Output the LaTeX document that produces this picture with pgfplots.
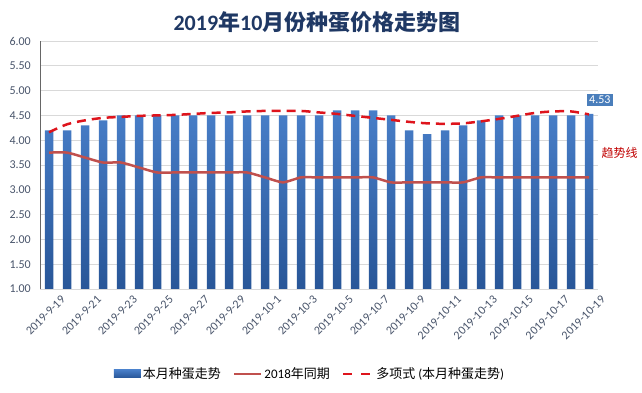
\documentclass[border=0pt]{standalone}
\usepackage{fontspec}
\setmainfont{Carlito}
\newfontfamily\cjk{Noto Sans CJK SC}
\usepackage{pgfplots}
\usepackage{pgfplotstable}
\pgfplotsset{compat=1.18}
\definecolor{barTop}{RGB}{72,126,200}
\definecolor{barBot}{RGB}{40,86,152}
\definecolor{oldline}{RGB}{192,80,77}
\definecolor{trendred}{RGB}{222,20,28}
\definecolor{gridgray}{RGB}{217,217,217}
\definecolor{ticktext}{RGB}{72,84,106}
\definecolor{titleblue}{RGB}{31,56,100}
\definecolor{labelbox}{RGB}{74,126,187}
\definecolor{darkred}{RGB}{192,0,0}

\pgfplotstableread{
i cur old trend
0 4.20 3.75 4.16
1 4.20 3.75 4.32
2 4.30 3.65 4.40
3 4.40 3.55 4.45
4 4.50 3.55 4.47
5 4.50 3.45 4.49
6 4.50 3.35 4.50
7 4.50 3.35 4.51
8 4.50 3.35 4.53
9 4.50 3.35 4.55
10 4.50 3.35 4.56
11 4.50 3.35 4.58
12 4.50 3.25 4.59
13 4.50 3.15 4.59
14 4.50 3.25 4.59
15 4.50 3.25 4.56
16 4.60 3.25 4.53
17 4.60 3.25 4.49
18 4.60 3.25 4.45
19 4.50 3.15 4.41
20 4.20 3.15 4.37
21 4.12 3.15 4.34
22 4.20 3.15 4.33
23 4.30 3.15 4.34
24 4.40 3.25 4.38
25 4.50 3.25 4.43
26 4.50 3.25 4.49
27 4.50 3.25 4.55
28 4.50 3.25 4.58
29 4.50 3.25 4.58
30 4.53 3.25 4.52
}\eggdata

\begin{document}
\begin{tikzpicture}
\useasboundingbox (0,0) rectangle (642pt,393pt);
\node[font=\fontsize{22}{26}\selectfont\bfseries, text=titleblue] at (317pt,371pt)
  {2019{\cjk\bfseries 年}10{\cjk\bfseries 月份种蛋价格走势图}};
\begin{axis}[
  at={(40pt,104pt)}, anchor=south west,
  scale only axis, width=558pt, height=248pt,
  xmin=-0.5, xmax=30.5, ymin=1, ymax=6,
  ytick={1,1.5,...,6.01},
  yticklabel style={/pgf/number format/fixed, /pgf/number format/fixed zerofill, /pgf/number format/precision=2, /pgf/number format/assume math mode=true, font=\fontsize{12}{14}\selectfont, text=ticktext, inner sep=0pt, xshift=-9pt},
  xtick={0,2,...,30},
  xticklabels={2019-9-19,2019-9-21,2019-9-23,2019-9-25,2019-9-27,2019-9-29,2019-10-1,2019-10-3,2019-10-5,2019-10-7,2019-10-9,2019-10-11,2019-10-13,2019-10-15,2019-10-17,2019-10-19},
  xticklabel style={rotate=45, anchor=north east, font=\fontsize{12}{14}\selectfont, text=ticktext, inner sep=0pt, xshift=4pt, yshift=-12pt},
  major tick length=0pt,
  axis lines=left,
  axis line style={-},
  x axis line style={draw=gridgray, line width=0.8pt},
  y axis line style={draw=gray!80!black, line width=0.8pt},
  ymajorgrids, grid style={draw=gridgray, line width=0.8pt},
  clip=false,
  legend style={at={(0.484,-0.342)}, anchor=center, draw=none, fill=none,
    legend columns=-1, font=\fontsize{13}{15}\selectfont,
    /tikz/every even column/.append style={column sep=10pt}},
]
\addplot[ybar, bar width=8.5pt, draw=none, top color=barTop, bottom color=barBot,
  legend image code/.code={\fill[barTop!60!barBot] (0pt,-4pt) rectangle (27pt,4pt);}]
  table[x=i, y=cur] {\eggdata};
\addlegendentry{{\cjk 本月种蛋走势}}
\addplot[oldline, line width=2.5pt, smooth, tension=0.35, no markers,
  legend image code/.code={\draw[oldline, line width=2.5pt] (0pt,0pt) -- (27pt,0pt);}]
  table[x=i, y=old] {\eggdata};
\addlegendentry{2018{\cjk 年同期}}
\addplot[trendred, line width=2.5pt, smooth, no markers, dash pattern=on 9pt off 6pt,
  legend image code/.code={\draw[trendred, line width=2.5pt, dash pattern=on 9pt off 9pt] (0pt,0pt) -- (30pt,0pt);}]
  table[x=i, y=trend] {\eggdata};
\addlegendentry{{\cjk 多项式} ({\cjk 本月种蛋走势})}
\node[fill=labelbox, text=white, font=\fontsize{12}{14}\selectfont, inner sep=2.5pt] at (axis cs:30.6,4.81) {4.53};
\node[text=darkred, font=\fontsize{12}{14}\selectfont\cjk] at (axis cs:31.7,3.74) {趋势线};
\end{axis}
\end{tikzpicture}
\end{document}
